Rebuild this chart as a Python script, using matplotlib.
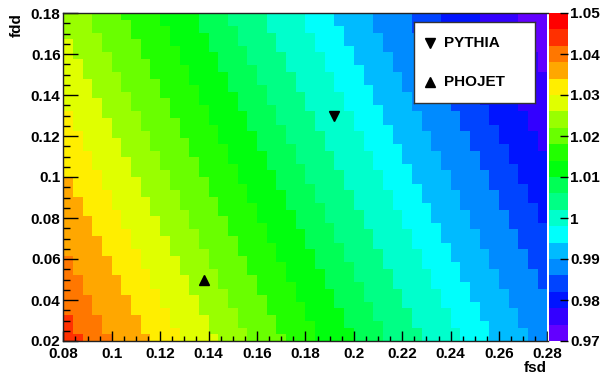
import colorsys
import numpy as np
import matplotlib
matplotlib.use("Agg")
import matplotlib.pyplot as plt
from matplotlib.colors import ListedColormap, BoundaryNorm

# ---- data ----
fsd_range = [0.08, 0.28]
fdd_range = [0.02, 0.18]
n_fsd_bins = 50
n_fdd_bins = 50
z_levels = [0.97, 1.05]
n_contours = 20
# colour band (0 = lowest .. 19 = highest) and the diagonal index (3*col + row)
# at which that band begins; the staircase steps one fsd bin every three fdd bins
band_ids = [18, 17, 16, 15, 14, 13, 12, 11, 10, 9, 8, 7, 6, 5, 4, 3, 2, 1, 0]
band_start = [0, 4, 13, 25, 35, 46, 56, 67, 78, 89, 99, 110, 122, 132, 143, 155, 165, 176, 188]
rows_per_col_step = 3
pythia_fsd = [0.192]
pythia_fdd = [0.130]
phojet_fsd = [0.138]
phojet_fdd = [0.050]
cbar_ticks = [0.97, 0.98, 0.99, 1.00, 1.01, 1.02, 1.03, 1.04, 1.05]
cbar_labels = ["0.97", "0.98", "0.99", "1", "1.01", "1.02", "1.03", "1.04", "1.05"]
x_ticks = [0.08, 0.10, 0.12, 0.14, 0.16, 0.18, 0.20, 0.22, 0.24, 0.26, 0.28]
x_labels = ["0.08", "0.1", "0.12", "0.14", "0.16", "0.18", "0.2", "0.22", "0.24", "0.26", "0.28"]
y_ticks = [0.02, 0.04, 0.06, 0.08, 0.10, 0.12, 0.14, 0.16, 0.18]
y_labels = ["0.02", "0.04", "0.06", "0.08", "0.1", "0.12", "0.14", "0.16", "0.18"]

# build the cell grid from the band starts
col_idx, row_idx = np.meshgrid(np.arange(n_fsd_bins), np.arange(n_fdd_bins))
diag = rows_per_col_step * col_idx + row_idx
pos = np.searchsorted(band_start, diag, side="right") - 1
band = np.array(band_ids)[pos]
dz = (z_levels[1] - z_levels[0]) / n_contours
Z = z_levels[0] + dz * (band + 0.5)

# ROOT "pretty palette" (palette 1) with 20 contours
pal = []
for k in range(50):
    hue = 280 - (k + 1) * 5.6
    pal.append(colorsys.hls_to_rgb(hue / 360.0, 0.5, 1.0))
cols = [pal[int((i + 0.99) * 50 / n_contours)] for i in range(n_contours)]
cmap = ListedColormap(cols)
bounds = np.linspace(z_levels[0], z_levels[1], n_contours + 1)
norm = BoundaryNorm(bounds, cmap.N)

FONT = "Liberation Sans"
FS = 11
W, H = 602, 378
PX = 0.72  # points per pixel at dpi 100
fig = plt.figure(figsize=(W / 100, H / 100), dpi=100)
ax = fig.add_axes([63.3 / W, 1 - 341 / H, (547.5 - 63.3) / W, (341 - 13) / H])
xe = np.linspace(fsd_range[0], fsd_range[1], n_fsd_bins + 1)
ye = np.linspace(fdd_range[0], fdd_range[1], n_fdd_bins + 1)
ax.pcolormesh(xe, ye, Z, cmap=cmap, norm=norm, shading="flat", edgecolors="none",
              antialiased=False)
ax.set_xlim(fsd_range)
ax.set_ylim(fdd_range)

ax.plot(pythia_fsd, pythia_fdd, marker="v", color="black", ms=7.5, ls="none")
ax.plot(phojet_fsd, phojet_fdd, marker="^", color="black", ms=7.5, ls="none")

ax.set_xticks(x_ticks)
ax.set_xticklabels(x_labels)
ax.set_yticks(y_ticks)
ax.set_yticklabels(y_labels)
ax.set_xticks(np.arange(0.08, 0.2801, 0.005), minor=True)
ax.set_yticks(np.arange(0.02, 0.1801, 0.005), minor=True)
ax.tick_params(which="both", direction="in", top=False, right=False, colors="black")
ax.tick_params(axis="x", which="major", length=9.8 * PX, width=1, pad=4)
ax.tick_params(axis="x", which="minor", length=4.9 * PX, width=1)
ax.tick_params(axis="y", which="major", length=14.5 * PX, width=1, pad=2)
ax.tick_params(axis="y", which="minor", length=7.3 * PX, width=1)
for lab in ax.get_xticklabels() + ax.get_yticklabels():
    lab.set_fontfamily(FONT)
    lab.set_fontweight("bold")
    lab.set_fontsize(FS)
for s in ax.spines.values():
    s.set_color("#222222")
    s.set_linewidth(1.0)
ax.spines["right"].set_color("white")

fig.text(547 / W, 1 - 368 / H, "fsd", ha="right", va="center",
         fontfamily=FONT, fontweight="bold", fontsize=FS)
fig.text(16.5 / W, 1 - 13 / H, "fdd", ha="center", va="top", rotation=90,
         fontfamily=FONT, fontweight="bold", fontsize=FS)

# legend box
leg = fig.add_axes([414 / W, 1 - 103 / H, (535 - 414) / W, (103 - 22) / H])
leg.set_xlim(0, 1)
leg.set_ylim(0, 1)
leg.set_xticks([])
leg.set_yticks([])
leg.set_facecolor("white")
for s in leg.spines.values():
    s.set_color("#333333")
    s.set_linewidth(1.0)
leg.plot([0.13], [0.74], marker="v", color="black", ms=6.5, ls="none")
leg.plot([0.13], [0.26], marker="^", color="black", ms=6.5, ls="none")
leg.text(0.25, 0.74, "PYTHIA", va="center", ha="left", fontfamily=FONT,
         fontweight="bold", fontsize=FS)
leg.text(0.25, 0.26, "PHOJET", va="center", ha="left", fontfamily=FONT,
         fontweight="bold", fontsize=FS)

# colour bar
cax = fig.add_axes([549 / W, 1 - 341 / H, (567.5 - 549) / W, (341 - 13) / H])
cax.pcolormesh([0, 1], bounds, ((bounds[:-1] + bounds[1:]) / 2)[:, None],
               cmap=cmap, norm=norm, shading="flat", antialiased=False)
cax.set_xlim(0, 1)
cax.set_ylim(z_levels)
cax.set_xticks([])
cax.yaxis.tick_right()
cax.set_yticks(cbar_ticks)
cax.set_yticklabels(cbar_labels)
cax.tick_params(axis="y", direction="in", length=8 * PX, width=1, pad=2, colors="black")
for lab in cax.get_yticklabels():
    lab.set_fontfamily(FONT)
    lab.set_fontweight("bold")
    lab.set_fontsize(FS)
for s in cax.spines.values():
    s.set_visible(False)

fig.savefig("out.png", dpi=100)
